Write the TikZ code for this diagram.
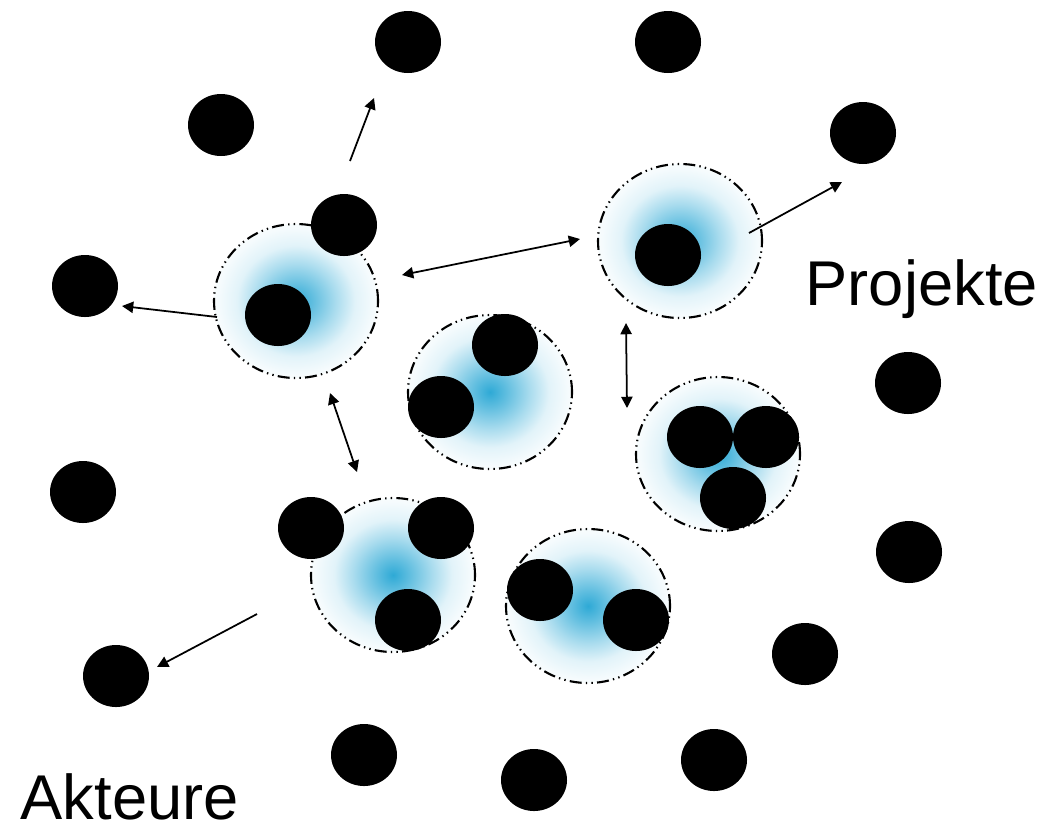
\documentclass[tikz,border=0pt]{standalone}
\usepackage{fontspec}
\setmainfont{Liberation Sans}
\usepackage{tikz}
\usetikzlibrary{arrows.meta,shapes.geometric}

\definecolor{glowblue}{RGB}{28,162,210}
\colorlet{glow0}{glowblue!92!white}
\colorlet{glowa}{glowblue!70!white}
\colorlet{glowb}{glowblue!38!white}
\colorlet{glowc}{glowblue!13!white}
\colorlet{glowd}{glowblue!4!white}
\pgfdeclareradialshading{glow}{\pgfpoint{0bp}{0bp}}{color(0bp)=(glow0); color(5bp)=(glowa); color(12bp)=(glowb); color(18bp)=(glowc); color(24bp)=(glowd); color(30bp)=(white); color(50bp)=(white)}

\tikzset{
  akteur/.style={ellipse,fill=black,inner sep=0pt,minimum width=0.66cm,minimum height=0.62cm},
  projekt/.style={ellipse,inner sep=0pt,minimum width=1.64cm,minimum height=1.54cm,shading=glow,
    draw=black,line width=0.6pt,dash pattern=on 3.4pt off 1.2pt on 0.4pt off 1.2pt on 0.4pt off 1.2pt},
  pfeil/.style={line width=0.5pt,>={Triangle[length=3.2pt,width=3.2pt]}},
  label/.style={font=\fontsize{18}{22}\selectfont,inner sep=0pt,anchor=base west}
}

\begin{document}
\begin{tikzpicture}
\useasboundingbox (0,0) rectangle (10.43,8.27);
\fill[white] (0,0) rectangle (10.43,8.27);

\node[projekt] (pA) at (2.96,5.26) {};
\node[projekt] (pB) at (6.80,5.86) {};
\node[projekt] (pC) at (4.90,4.35) {};
\node[projekt] (pE) at (7.18,3.73) {};
\node[projekt] (pF) at (3.93,2.52) {};
\node[projekt] (pG) at (5.88,2.21) {};

\node[akteur] (a1) at (4.08,7.85) {};
\node[akteur] (a2) at (6.68,7.85) {};
\node[akteur] (a3) at (2.21,7.02) {};
\node[akteur] (a4) at (8.63,6.94) {};
\node[akteur] (a5) at (3.44,6.02) {};
\node[akteur] (a6) at (0.85,5.41) {};
\node[akteur] (a7) at (2.78,5.12) {};
\node[akteur] (a8) at (6.68,5.72) {};
\node[akteur] (a9) at (5.05,4.82) {};
\node[akteur] (a10) at (4.41,4.20) {};
\node[akteur] (a11) at (9.08,4.44) {};
\node[akteur] (a12) at (7.00,3.90) {};
\node[akteur] (a13) at (7.66,3.90) {};
\node[akteur] (a14) at (7.33,3.29) {};
\node[akteur] (a15) at (0.83,3.35) {};
\node[akteur] (a16) at (3.11,2.99) {};
\node[akteur] (a17) at (4.41,2.99) {};
\node[akteur] (a18) at (4.08,2.07) {};
\node[akteur] (a19) at (5.40,2.37) {};
\node[akteur] (a20) at (6.36,2.07) {};
\node[akteur] (a21) at (9.09,2.75) {};
\node[akteur] (a22) at (8.05,1.73) {};
\node[akteur] (a23) at (1.16,1.51) {};
\node[akteur] (a24) at (3.64,0.72) {};
\node[akteur] (a25) at (5.34,0.47) {};
\node[akteur] (a26) at (7.14,0.67) {};

\coordinate (up0) at (3.50,6.66);
\coordinate (up1) at (3.74,7.29);
\coordinate (li0) at (2.17,5.10);
\coordinate (li1) at (1.22,5.21);
\coordinate (ab0) at (4.02,5.52);
\coordinate (ab1) at (5.80,5.88);
\coordinate (re0) at (7.49,5.94);
\coordinate (re1) at (8.42,6.45);
\coordinate (af0) at (3.30,4.34);
\coordinate (af1) at (3.57,3.55);
\coordinate (be0) at (6.26,5.04);
\coordinate (be1) at (6.27,4.19);
\coordinate (dl0) at (2.57,2.13);
\coordinate (dl1) at (1.57,1.60);

\draw[pfeil,->] (up0) -- (up1);
\draw[pfeil,->] (li0) -- (li1);
\draw[pfeil,<->] (ab0) -- (ab1);
\draw[pfeil,->] (re0) -- (re1);
\draw[pfeil,<->] (af0) -- (af1);
\draw[pfeil,<->] (be0) -- (be1);
\draw[pfeil,->] (dl0) -- (dl1);

\node[label] (projekte) at (8.05,5.22) {Projekte};
\node[label] (akteure) at (0.20,0.08) {Akteure};
\end{tikzpicture}
\end{document}
